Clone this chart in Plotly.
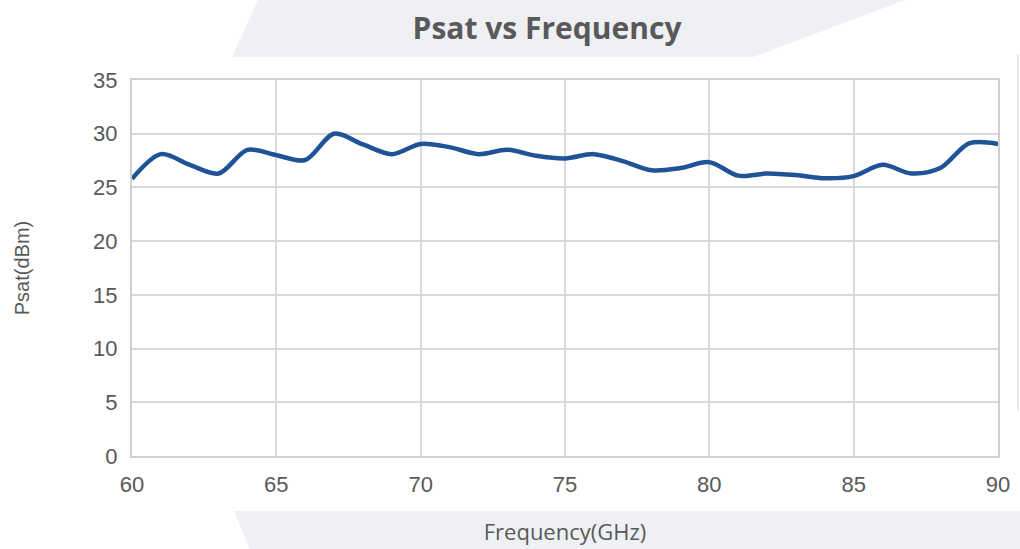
import plotly.graph_objects as go

freq_ghz = list(range(60, 91))
psat_dbm = [25.8, 28.1, 27.1, 26.3, 28.5, 28.0, 27.55, 30.0, 29.0, 28.1,
            29.05, 28.75, 28.1, 28.5, 27.95, 27.7, 28.1, 27.45, 26.6, 26.8,
            27.35, 26.1, 26.3, 26.15, 25.85, 26.05, 27.1, 26.3, 26.8, 29.1,
            29.05]
x_ticks = [60, 65, 70, 75, 80, 85, 90]
y_ticks = [0, 5, 10, 15, 20, 25, 30, 35]

W, H = 1020, 549
L, R, T, B = 132, 998, 80, 456

def px(x):
    return (x - L) / (R - L)

def py(y):
    return (B - y) / (B - T)

fig = go.Figure()
fig.add_trace(go.Scatter(
    x=freq_ghz, y=psat_dbm, mode="lines",
    line=dict(color="#1f5296", width=4.5, shape="spline", smoothing=0.9),
    hoverinfo="x+y", showlegend=False,
))

gray = "#eef0f4"
shapes = [
    dict(type="path", xref="paper", yref="paper", layer="below",
         path=f"M {px(232)} {py(57)} L {px(258)} {py(0)} L {px(905)} {py(0)} L {px(753)} {py(57)} Z",
         fillcolor=gray, line=dict(width=0)),
    dict(type="path", xref="paper", yref="paper", layer="below",
         path=f"M {px(234)} {py(511)} L {px(1020)} {py(511)} L {px(1020)} {py(549)} L {px(250)} {py(549)} Z",
         fillcolor=gray, line=dict(width=0)),
    dict(type="line", xref="paper", yref="paper", layer="below",
         x0=px(1018), x1=px(1018), y0=py(55), y1=py(410),
         line=dict(color="#e6e7ea", width=2)),
]

fig.update_layout(
    width=W, height=H,
    margin=dict(l=L, r=W - R, t=T, b=H - B),
    paper_bgcolor="white", plot_bgcolor="white",
    shapes=shapes,
    title=dict(text="<b>Psat vs Frequency</b>", x=(547) / W, xanchor="center",
               y=1 - 28 / H, yanchor="middle",
               font=dict(family="Open Sans", size=30, color="#595959")),
    xaxis=dict(range=[60, 90], tickvals=x_ticks, ticktext=[str(v) for v in x_ticks],
               showgrid=True, gridcolor="#d9d9d9", gridwidth=1.5,
               showline=True, linecolor="#d0d0d0", linewidth=2, mirror=True,
               zeroline=False, ticks="", ticklabelstandoff=8, automargin=False,
               tickfont=dict(family="Liberation Sans", size=22, color="#595959"),
               title=dict(text="Frequency(GHz)", standoff=28,
                          font=dict(family="Open Sans", size=22, color="#595959"))),
    yaxis=dict(range=[0, 35], tickvals=y_ticks, ticktext=[str(v) for v in y_ticks],
               showgrid=True, gridcolor="#d9d9d9", gridwidth=1.5,
               showline=True, linecolor="#d0d0d0", linewidth=2, mirror=True,
               zeroline=False, ticks="", ticklabelstandoff=8, automargin=False,
               tickfont=dict(family="Liberation Sans", size=22, color="#595959"),
               title=dict(text="Psat(dBm)", standoff=58,
                          font=dict(family="Liberation Sans", size=20, color="#595959"))),
)

fig.write_html("out.html", config={"displayModeBar": False},
               post_script="document.body.style.margin='0';")
